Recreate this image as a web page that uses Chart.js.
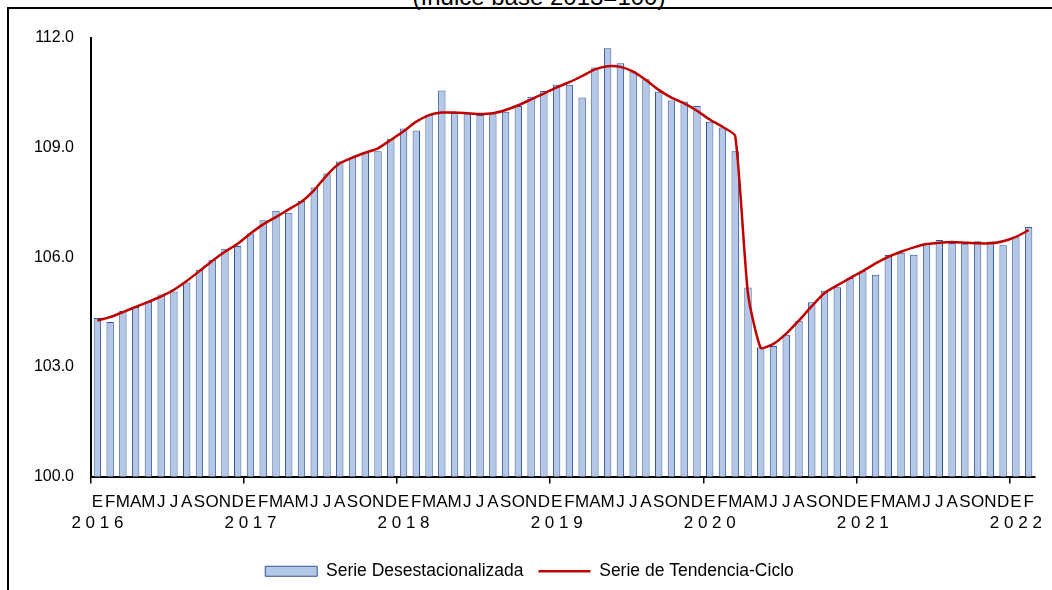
<!DOCTYPE html>
<html>
<head>
<meta charset="utf-8">
<script src="https://cdn.jsdelivr.net/npm/chart.js"></script>
<style>
  body { margin: 0; background: #fff; overflow: hidden; }
  #wrap { position: relative; width: 1052px; height: 590px; overflow: hidden; }
  #frame { position: absolute; left: 7px; top: 7px; width: 1200px; height: 800px;
           border-left: 2px solid #000; border-top: 2px solid #000; }
  #title { position: absolute; left: 13px; top: -15px; width: 1052px; text-align: center;
           font: 24px "Liberation Sans", Arial, sans-serif; line-height: 1; color: #000; }
  #myChart { position: absolute; left: 0; top: 0; }
</style>
</head>
<body>
<div id="wrap">
  <div id="frame"></div>
  <div id="title">(Índice base 2013=100)</div>
  <canvas id="myChart" width="1052" height="590"></canvas>
</div>
<script>
// month initials and years, Jan 2016 - Feb 2022
var monthLetters = ['E', 'F', 'M', 'A', 'M', 'J', 'J', 'A', 'S', 'O', 'N', 'D'];
var years = ['2016', '2017', '2018', '2019', '2020', '2021', '2022'];
var yTicks = [100, 103, 106, 109, 112];

var desestacionalizada = [
    104.34, 104.23, 104.53, 104.64, 104.79, 104.98, 105.06, 105.31, 105.66, 105.93, 106.23, 106.31,
    106.65, 107.01, 107.27, 107.22, 107.54, 107.91, 108.29, 108.62, 108.73, 108.87, 108.90, 109.24,
    109.52, 109.47, 109.90, 110.56, 109.95, 109.91, 109.89, 109.91, 109.98, 110.14, 110.39, 110.55,
    110.72, 110.72, 110.37, 111.19, 111.72, 111.31, 111.08, 110.87, 110.53, 110.29, 110.26, 110.14,
    109.71, 109.55, 108.90, 105.17, 103.54, 103.57, 103.88, 104.26, 104.77, 105.08, 105.18, 105.43,
    105.62, 105.52, 106.06, 106.12, 106.07, 106.36, 106.47, 106.39, 106.37, 106.44, 106.43, 106.33,
    106.55, 106.83
];

var tendenciaCiclo = [
    104.27, 104.36, 104.50, 104.64, 104.78, 104.93, 105.11, 105.35, 105.62, 105.90, 106.15, 106.37,
    106.65, 106.90, 107.10, 107.31, 107.52, 107.84, 108.25, 108.57, 108.73, 108.86, 108.98, 109.21,
    109.45, 109.71, 109.89, 109.96, 109.96, 109.94, 109.92, 109.94, 110.03, 110.16, 110.32, 110.48,
    110.65, 110.79, 110.96, 111.14, 111.23, 111.21, 111.08, 110.85, 110.58, 110.37, 110.21, 110.01,
    109.77, 109.57, 109.32, 105.00, 103.52, 103.63, 103.91, 104.27, 104.66, 105.02, 105.23, 105.43,
    105.62, 105.83, 106.01, 106.15, 106.27, 106.36, 106.40, 106.42, 106.40, 106.38, 106.38, 106.44,
    106.56, 106.74
];

// one label per month: [letter, year on January]
var labels = desestacionalizada.map(function (v, i) {
    var year = i % 12 === 0 ? years[i / 12].split('').join(' ') : '';
    return [monthLetters[i % 12], year];
});

Chart.defaults.font.family = '"Liberation Sans", Arial, sans-serif';
Chart.defaults.color = '#000';

// nudge the legend to the right, like the original
var legendShift = {
    id: 'legendShift',
    afterLayout: function (chart) {
        chart.legend.left += 12;
        chart.legend.right += 12;
    }
};

var ctx = document.getElementById('myChart').getContext('2d');
var myChart = new Chart(ctx, {
    type: 'bar',
    data: {
        labels: labels,
        datasets: [{
            label: 'Serie Desestacionalizada',
            data: desestacionalizada,
            backgroundColor: '#B4C7E7',
            borderColor: '#2F5597',
            borderWidth: 1,
            barPercentage: 0.58,
            categoryPercentage: 1.0,
            order: 2
        }, {
            type: 'line',
            label: 'Serie de Tendencia-Ciclo',
            data: tendenciaCiclo,
            borderColor: '#C00000',
            backgroundColor: '#C00000',
            borderWidth: 2.5,
            pointRadius: 0,
            tension: 0.18,
            order: 1
        }]
    },
    options: {
        responsive: false,
        animation: false,
        devicePixelRatio: 1,
        layout: { padding: { top: 38, right: 17, bottom: 0, left: 0 } },
        plugins: {
            tooltip: { enabled: false },
            legend: {
                position: 'bottom',
                labels: {
                    font: { size: 17.5 },
                    padding: 15,
                    usePointStyle: true,
                    pointStyleWidth: 52,
                    boxHeight: 10,
                    generateLabels: function (chart) {
                        var items = Chart.defaults.plugins.legend.labels.generateLabels(chart);
                        items.sort(function (a, b) { return a.datasetIndex - b.datasetIndex; });
                        items.forEach(function (it) {
                            if (it.datasetIndex === 0) {
                                it.pointStyle = 'rect';
                                it.lineWidth = 1;
                            } else {
                                it.pointStyle = 'line';
                                it.lineWidth = 2.5;
                            }
                        });
                        return items;
                    }
                }
            }
        },
        scales: {
            x: {
                afterFit: function (scale) { scale.height = 71; },
                border: { color: '#000', width: 2 },
                grid: {
                    offset: true,
                    drawOnChartArea: false,
                    tickLength: 7,
                    lineWidth: 1.5,
                    color: function (c) { return c.index % 12 === 0 ? '#000' : 'rgba(0,0,0,0)'; }
                },
                ticks: {
                    autoSkip: false,
                    maxRotation: 0,
                    minRotation: 0,
                    padding: 9,
                    font: { size: 17, lineHeight: 1.2 }
                }
            },
            y: {
                min: 100,
                max: 112,
                afterFit: function (scale) { scale.width = 91; },
                afterBuildTicks: function (scale) {
                    scale.ticks = yTicks.map(function (v) { return { value: v }; });
                },
                border: { color: '#000', width: 2 },
                grid: { drawOnChartArea: false, drawTicks: false },
                ticks: {
                    padding: 17,
                    font: { size: 16 },
                    callback: function (v) { return v.toFixed(1); }
                }
            }
        }
    },
    plugins: [legendShift]
});
</script>
</body>
</html>
